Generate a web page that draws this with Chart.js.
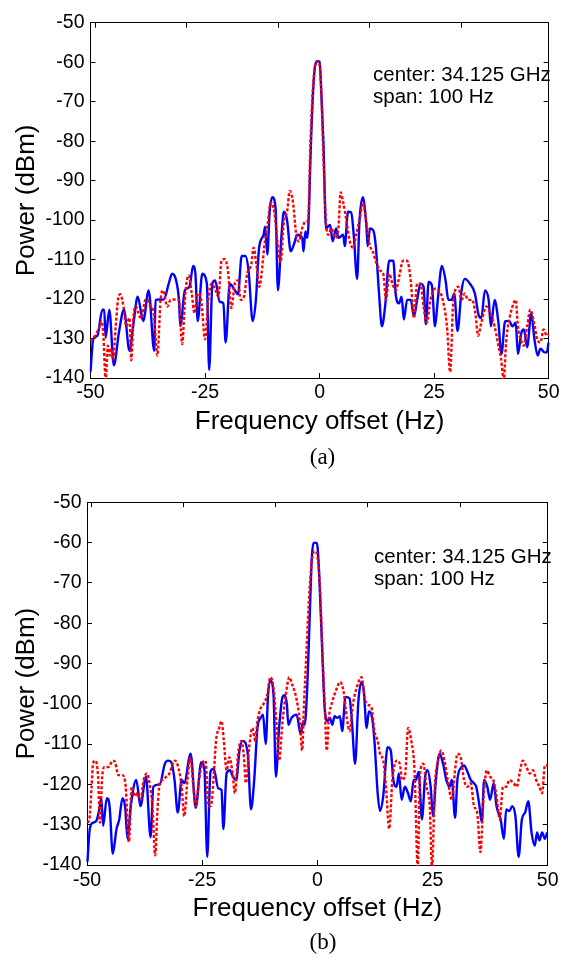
<!DOCTYPE html>
<html><head><meta charset="utf-8">
<script src="https://cdn.jsdelivr.net/npm/chart.js@4.4.1/dist/chart.umd.min.js"></script>
<style>
html,body{margin:0;padding:0;background:#fff;}
#wrap{position:relative;width:567px;height:960px;overflow:hidden;background:#fff;}
canvas{position:absolute;left:0;}
.note{position:absolute;font-family:"Liberation Sans",Arial,sans-serif;font-size:20.5px;line-height:21.5px;color:#000;white-space:nowrap;}
.cap{position:absolute;font-family:"Liberation Serif","Times New Roman",serif;font-size:23px;line-height:23px;text-align:center;color:#000;}
</style></head><body>
<div id="wrap">
<canvas id="ca" width="567" height="480" style="top:0"></canvas>
<canvas id="cb" width="567" height="480" style="top:480px"></canvas>
<div class="note" style="left:373px;top:63px">center: 34.125 GHz<br>span: 100 Hz</div>
<div class="note" style="left:374px;top:545px">center: 34.125 GHz<br>span: 100 Hz</div>
<div class="cap" style="left:90px;width:465px;top:445px">(a)</div>
<div class="cap" style="left:87px;width:472px;top:930px">(b)</div>
</div>
<script>
// ---- tick labels ----
const xTicks = [-50, -25, 0, 25, 50];
const xTopTicks = [-49, -29, -9, 11, 31];
const yTicks = [-140, -130, -120, -110, -100, -90, -80, -70, -60, -50];

// ---- panel (a), blue solid trace ----
const freqBlueA = [-50.0,-49.4,-48.5,-47.4,-47.0,-46.7,-45.9,-44.9,-43.8,-42.7,-41.5,-40.6,-39.7,-38.5,-37.3,-36.1,-35.8,-35.0,-34.0,-32.9,-32.2,-31.4,-30.7,-30.4,-29.4,-28.4,-27.6,-27.1,-26.6,-25.6,-24.6,-24.1,-23.4,-22.8,-21.8,-21.0,-20.5,-19.6,-18.5,-17.8,-17.0,-16.2,-15.5,-14.6,-13.9,-13.2,-12.2,-11.9,-11.4,-10.9,-10.3,-9.6,-9.1,-8.3,-7.8,-7.1,-6.3,-5.5,-4.9,-3.8,-3.5,-3.1,-2.7,-2.4,-2.0,-1.45,-0.95,-0.45,0.0,0.4,0.85,1.4,2.3,2.85,3.6,4.1,5.15,5.5,6.2,6.9,7.45,8.2,8.7,9.45,10.2,10.5,11.0,11.75,12.3,13.0,13.6,14.3,15.2,16.1,16.6,17.35,17.9,18.4,19.1,19.9,20.6,21.3,22.0,22.7,23.2,23.8,24.5,25.2,25.8,26.7,27.5,28.1,28.8,29.4,30.1,31.0,31.7,32.8,33.9,34.7,35.3,36.1,36.9,37.4,38.2,39.0,39.7,40.5,41.4,42.1,42.8,43.3,44.05,44.6,45.3,46.2,46.9,47.6,48.2,49.1,49.6,50.0];
const powBlueA = [-138.4,-130.2,-129.3,-122.7,-122.7,-129.8,-122.7,-136.8,-128.5,-122.7,-133.1,-126.0,-119.4,-125.6,-117.8,-133.1,-120.2,-120.1,-120.1,-116.0,-113.6,-114.9,-120.2,-126.9,-117.8,-116.9,-111.6,-113.6,-125.6,-113.6,-116.1,-138.0,-116.1,-115.3,-120.7,-121.1,-131.0,-116.1,-117.8,-118.8,-109.1,-109.1,-112.8,-125.6,-120.2,-107.0,-103.7,-101.7,-108.7,-97.9,-94.2,-97.1,-117.8,-103.7,-97.9,-100.0,-107.9,-105.8,-103.7,-104.5,-107.9,-102.9,-104.5,-100.4,-84.7,-68.2,-60.7,-59.75,-59.9,-68.2,-80.6,-102.1,-101.2,-105.4,-102.1,-104.5,-103.7,-106.6,-97.9,-98.1,-103.7,-114.9,-100.4,-94.2,-101.2,-106.6,-102.1,-102.7,-107.0,-119.0,-126.9,-121.9,-110.3,-110.3,-118.6,-121.1,-119.4,-125.2,-120.2,-120.2,-124.4,-120.2,-116.1,-116.9,-126.4,-115.7,-116.5,-126.9,-120.2,-111.6,-115.3,-120.2,-120.2,-118.6,-128.1,-117.8,-114.9,-116.1,-118.6,-124.0,-124.8,-117.8,-120.2,-126.9,-120.2,-125.6,-133.9,-125.6,-125.6,-126.9,-126.0,-133.9,-128.5,-127.7,-132.2,-123.6,-130.2,-134.3,-132.6,-133.5,-133.5,-131.0];

// ---- panel (a), red dotted trace ----
const freqRedA = [-50.0,-49.0,-48.0,-47.6,-47.2,-46.7,-46.2,-45.8,-45.4,-45.1,-44.5,-44.0,-43.5,-42.8,-42.2,-41.5,-41.1,-40.6,-40.1,-39.3,-38.8,-38.05,-37.55,-36.8,-36.3,-35.4,-34.7,-34.2,-33.25,-32.5,-31.45,-30.7,-30.0,-29.3,-28.6,-27.9,-27.3,-26.6,-25.85,-25.0,-24.3,-23.6,-22.7,-22.1,-21.4,-20.7,-20.0,-19.25,-18.5,-17.8,-17.2,-16.5,-15.8,-14.9,-14.4,-13.8,-13.15,-12.65,-12.1,-11.35,-10.65,-9.9,-9.2,-8.5,-7.8,-7.1,-6.5,-5.8,-5.1,-4.5,-3.8,-3.1,-2.5,-2.0,-1.45,-0.7,-0.2,0.3,0.85,1.4,1.9,2.6,3.35,4.1,4.6,5.15,5.9,6.6,7.3,8.0,8.9,9.45,10.2,10.9,11.6,12.5,13.2,13.9,14.5,15.2,15.9,16.6,17.5,18.2,19.1,19.9,20.6,21.3,22.0,22.7,23.4,24.2,25.1,26.0,26.7,27.8,28.5,29.2,30.3,31.0,31.7,32.4,33.3,34.0,34.6,35.3,36.4,37.4,38.2,38.9,39.6,40.2,40.7,41.4,42.1,42.8,43.3,43.9,44.6,45.3,46.0,46.8,47.5,48.2,48.9,49.6,50.0];
const powRedA = [-130.6,-129.3,-126.9,-125.6,-128.9,-140.5,-131.8,-134.3,-132.6,-135.5,-126.9,-120.2,-118.8,-121.9,-126.9,-124.8,-135.5,-124.4,-121.9,-124.4,-124.8,-120.2,-120.2,-122.3,-122.7,-134.3,-120.2,-117.8,-121.9,-120.2,-120.1,-120.2,-131.4,-118.6,-114.0,-118.6,-123.6,-118.6,-120.2,-130.2,-120.2,-116.1,-117.8,-119.4,-110.3,-109.9,-112.8,-122.3,-116.1,-115.3,-120.2,-119.4,-113.6,-111.2,-107.0,-111.2,-116.9,-113.6,-107.0,-101.2,-95.5,-97.9,-105.4,-110.7,-100.4,-97.9,-92.6,-95.5,-103.7,-105.4,-102.1,-100.4,-100.0,-80.6,-66.5,-59.9,-59.9,-65.7,-84.7,-100.4,-103.7,-102.1,-104.5,-102.1,-93.0,-95.5,-100.4,-105.4,-107.0,-103.7,-98.8,-95.5,-100.4,-106.2,-107.9,-111.2,-112.8,-113.6,-120.2,-113.6,-116.1,-117.8,-113.6,-110.3,-110.3,-115.3,-124.8,-116.1,-116.1,-121.9,-126.0,-120.2,-117.4,-117.8,-119.4,-126.9,-138.5,-120.2,-116.9,-120.2,-118.6,-120.2,-120.2,-123.6,-129.3,-126.0,-121.9,-124.0,-126.9,-131.0,-135.1,-140.5,-131.0,-125.2,-121.9,-120.2,-126.9,-130.2,-131.8,-126.9,-122.7,-126.0,-130.2,-131.0,-127.7,-129.3,-128.9];

// ---- panel (b), blue solid trace ----
const freqBlueB = [-49.9,-49.4,-48.7,-48.0,-47.2,-46.9,-46.5,-45.7,-45.1,-44.4,-43.6,-43.0,-42.3,-41.7,-41.2,-40.5,-39.3,-38.4,-37.2,-36.2,-35.6,-34.2,-33.1,-32.4,-31.7,-31.0,-30.3,-29.45,-28.9,-27.5,-26.4,-25.2,-24.5,-23.9,-23.2,-22.5,-21.5,-20.8,-20.4,-19.7,-19.0,-18.3,-17.6,-16.9,-16.2,-15.1,-14.4,-13.7,-13.0,-12.3,-11.8,-11.2,-10.7,-10.2,-9.5,-9.0,-8.3,-7.55,-7.1,-6.6,-6.3,-5.6,-4.5,-3.6,-3.1,-2.75,-2.2,-1.7,-1.2,-0.8,-0.1,0.4,1.1,1.6,2.2,2.75,3.25,3.75,4.3,4.9,5.4,6.1,7.0,7.5,8.2,8.9,9.6,10.1,10.7,11.2,11.9,12.4,13.1,13.6,14.3,15.25,15.95,16.5,17.2,17.7,18.3,19.0,19.7,20.3,20.9,21.4,22.0,22.7,23.4,23.9,24.6,25.1,25.8,26.55,27.3,28.0,28.7,29.2,29.9,30.4,31.3,31.85,32.6,33.3,34.0,34.5,35.2,35.7,36.2,36.9,37.5,38.3,38.9,39.8,40.5,41.0,41.7,42.3,43.0,43.7,44.4,45.1,45.8,46.5,47.2,47.7,48.2,48.8,49.4,49.9];
const powBlueB = [-139.2,-131.1,-129.5,-129.1,-125.4,-123.4,-130.3,-123.4,-125.4,-137.2,-131.1,-128.7,-123.4,-125.8,-133.5,-125.4,-118.9,-125.4,-118.1,-133.1,-120.6,-120.0,-114.9,-114.1,-114.5,-118.9,-127.0,-118.9,-119.7,-112.4,-125.8,-114.5,-116.5,-138.0,-116.9,-116.1,-121.0,-121.4,-131.1,-117.3,-116.5,-118.1,-118.9,-111.6,-109.2,-112.4,-126.2,-118.9,-106.0,-103.5,-102.7,-110.0,-97.9,-94.2,-97.9,-118.1,-106.0,-98.3,-97.9,-100.3,-105.2,-103.5,-102.7,-107.6,-104.3,-105.2,-96.2,-80.0,-63.8,-60.1,-60.1,-67.8,-88.1,-101.1,-104.3,-103.5,-105.2,-103.1,-103.5,-103.1,-106.8,-98.3,-98.7,-104.3,-114.9,-99.5,-94.6,-97.0,-106.0,-101.9,-103.5,-109.2,-122.2,-126.6,-123.0,-110.8,-111.6,-118.9,-120.6,-117.3,-123.8,-120.6,-122.2,-124.2,-118.9,-118.9,-116.9,-128.7,-118.1,-116.5,-120.6,-127.9,-118.1,-112.4,-114.9,-118.9,-120.6,-118.9,-128.3,-118.9,-115.7,-115.3,-116.9,-118.9,-119.7,-120.6,-125.4,-129.5,-118.9,-120.6,-123.8,-119.7,-125.4,-128.7,-133.5,-126.2,-126.6,-125.4,-127.9,-138.0,-128.7,-127.0,-124.2,-131.9,-135.2,-131.9,-133.9,-131.9,-133.5,-131.9];

// ---- panel (b), red dotted trace ----
const freqRedB = [-49.9,-49.5,-49.0,-48.7,-48.2,-47.6,-47.2,-46.7,-46.2,-45.3,-44.4,-43.9,-43.2,-42.3,-41.6,-40.9,-40.3,-39.6,-39.1,-38.4,-37.7,-37.0,-36.3,-35.8,-35.2,-34.7,-34.2,-33.5,-32.8,-32.1,-31.4,-30.9,-30.2,-29.45,-28.9,-28.2,-27.6,-26.9,-26.4,-25.7,-25.0,-24.3,-23.6,-23.1,-22.5,-22.0,-21.3,-20.8,-20.3,-19.7,-19.1,-18.4,-17.9,-17.2,-16.5,-16.0,-15.5,-14.8,-14.1,-13.5,-13.0,-12.3,-11.6,-10.9,-10.2,-9.5,-8.8,-8.3,-7.55,-6.85,-6.1,-5.4,-4.7,-3.8,-3.3,-2.9,-2.4,-1.7,-1.0,-0.5,0.07,0.6,1.1,1.6,2.05,2.5,3.25,3.95,5.0,5.7,6.4,7.0,7.7,8.5,9.6,10.3,11.0,11.7,12.4,13.1,13.6,14.3,14.9,15.6,16.3,17.2,17.9,18.4,19.1,19.7,20.4,21.1,21.8,22.3,23.0,23.7,24.4,24.9,25.5,26.2,26.9,27.6,28.3,29.2,29.9,30.4,31.1,31.85,32.6,33.3,34.0,34.7,35.4,36.1,36.8,37.5,38.2,38.9,39.6,40.3,41.0,41.7,42.6,43.3,43.9,44.6,45.4,46.1,46.8,47.5,48.2,48.8,49.4,49.9];
const powRedB = [-129.5,-128.7,-120.6,-114.9,-114.1,-118.1,-129.5,-118.1,-115.7,-115.7,-114.1,-114.5,-117.7,-117.7,-120.6,-134.3,-120.6,-123.0,-122.2,-123.8,-118.9,-117.3,-120.6,-125.4,-137.6,-126.2,-119.7,-118.9,-118.1,-117.3,-114.9,-114.1,-115.7,-120.6,-127.9,-118.9,-113.3,-120.6,-125.4,-118.9,-114.9,-114.1,-125.4,-125.4,-118.1,-109.2,-106.0,-104.3,-109.2,-116.5,-113.3,-117.3,-122.2,-112.4,-109.2,-112.4,-119.7,-110.8,-106.0,-109.2,-104.3,-101.1,-99.9,-97.9,-93.4,-96.2,-106.0,-114.1,-104.3,-97.9,-93.4,-95.4,-97.9,-104.3,-111.6,-100.3,-88.1,-71.9,-63.0,-62.2,-63.8,-71.9,-86.5,-100.3,-111.6,-103.5,-99.5,-97.0,-94.6,-97.0,-103.5,-106.8,-100.3,-96.2,-93.4,-98.7,-100.3,-100.7,-106.8,-109.2,-112.4,-114.1,-120.6,-131.0,-118.9,-114.1,-114.9,-118.9,-117.3,-106.0,-109.2,-116.5,-140.5,-117.3,-114.9,-120.6,-125.4,-140.5,-120.6,-114.1,-111.6,-114.1,-118.9,-123.8,-116.5,-112.4,-113.2,-118.9,-120.6,-119.7,-125.4,-127.0,-136.8,-123.0,-116.5,-118.1,-118.9,-123.0,-128.7,-120.6,-120.6,-118.9,-119.7,-120.6,-117.3,-114.1,-115.7,-117.3,-116.5,-118.9,-120.6,-122.2,-115.3,-115.3];

const SANS = "'Liberation Sans', Arial, Helvetica, sans-serif";

function pairs(fs, ps) { return fs.map((f, i) => ({ x: f, y: ps[i] })); }
function setTicks(arr) { return s => { s.ticks = arr.map(v => ({ value: v })); }; }

function build(id, bF, bP, rF, rP, g) {
  const grid = { display: true, drawOnChartArea: false, drawTicks: true, tickLength: -5, color: '#000', lineWidth: 1 };
  const border = { display: true, color: '#000', width: 1 };
  return new Chart(document.getElementById(id), {
    type: 'line',
    data: {
      datasets: [
        { label: 'blue', data: pairs(bF, bP), borderColor: '#0000ff', borderWidth: 2.4, pointRadius: 0, cubicInterpolationMode: 'monotone', fill: false, order: 2, clip: 1 },
        { label: 'red', data: pairs(rF, rP), borderColor: '#ff0000', borderWidth: 2.4, borderDash: [3, 2], pointRadius: 0, cubicInterpolationMode: 'monotone', fill: false, order: 1, clip: 1 }
      ]
    },
    options: {
      responsive: false, animation: false, devicePixelRatio: 1,
      layout: { padding: { left: 0, top: g.top, right: g.right, bottom: 0 } },
      plugins: { legend: { display: false }, tooltip: { enabled: false }, title: { display: false } },
      scales: {
        x: {
          type: 'linear', position: 'bottom', min: -50, max: 50,
          afterBuildTicks: setTicks(xTicks), afterFit: s => { s.height = g.xh; },
          grid: grid, border: border,
          ticks: { color: '#000', font: { family: SANS, size: 19.5 }, padding: g.xpad, maxRotation: 0, autoSkip: false, callback: v => String(v) },
          title: { display: true, text: 'Frequency offset (Hz)', color: '#000', font: { family: SANS, size: 26 }, padding: { top: 0, bottom: g.xtp } }
        },
        xTop: {
          type: 'linear', position: 'top', min: -50, max: 50,
          afterBuildTicks: setTicks(xTopTicks), afterFit: s => { s.height = 0; },
          grid: grid, border: border, ticks: { display: false }
        },
        y: {
          type: 'linear', position: 'left', min: -140, max: -50,
          afterBuildTicks: setTicks(yTicks), afterFit: s => { s.width = g.yw; },
          grid: grid, border: border,
          ticks: { color: '#000', font: { family: SANS, size: 19.5 }, padding: g.ypad, autoSkip: false, callback: v => String(v) },
          title: { display: true, text: 'Power (dBm)', color: '#000', font: { family: SANS, size: 26 }, padding: { top: g.ytp, bottom: 0 } }
        },
        yRight: {
          type: 'linear', position: 'right', min: -140, max: -50,
          afterBuildTicks: setTicks(yTicks), afterFit: s => { s.width = 0; },
          grid: grid, border: border, ticks: { display: false }
        }
      }
    }
  });
}

build('ca', freqBlueA, powBlueA, freqRedA, powRedA, { top: 15, right: 12, xh: 102, yw: 90.5, xpad: 7.5, ypad: 11, xtp: 43, ytp: 11 });
build('cb', freqBlueB, powBlueB, freqRedB, powRedB, { top: 15, right: 8, xh: 95, yw: 87, xpad: 8.5, ypad: 10.5, xtp: 36, ytp: 11 });
</script>
</body></html>
